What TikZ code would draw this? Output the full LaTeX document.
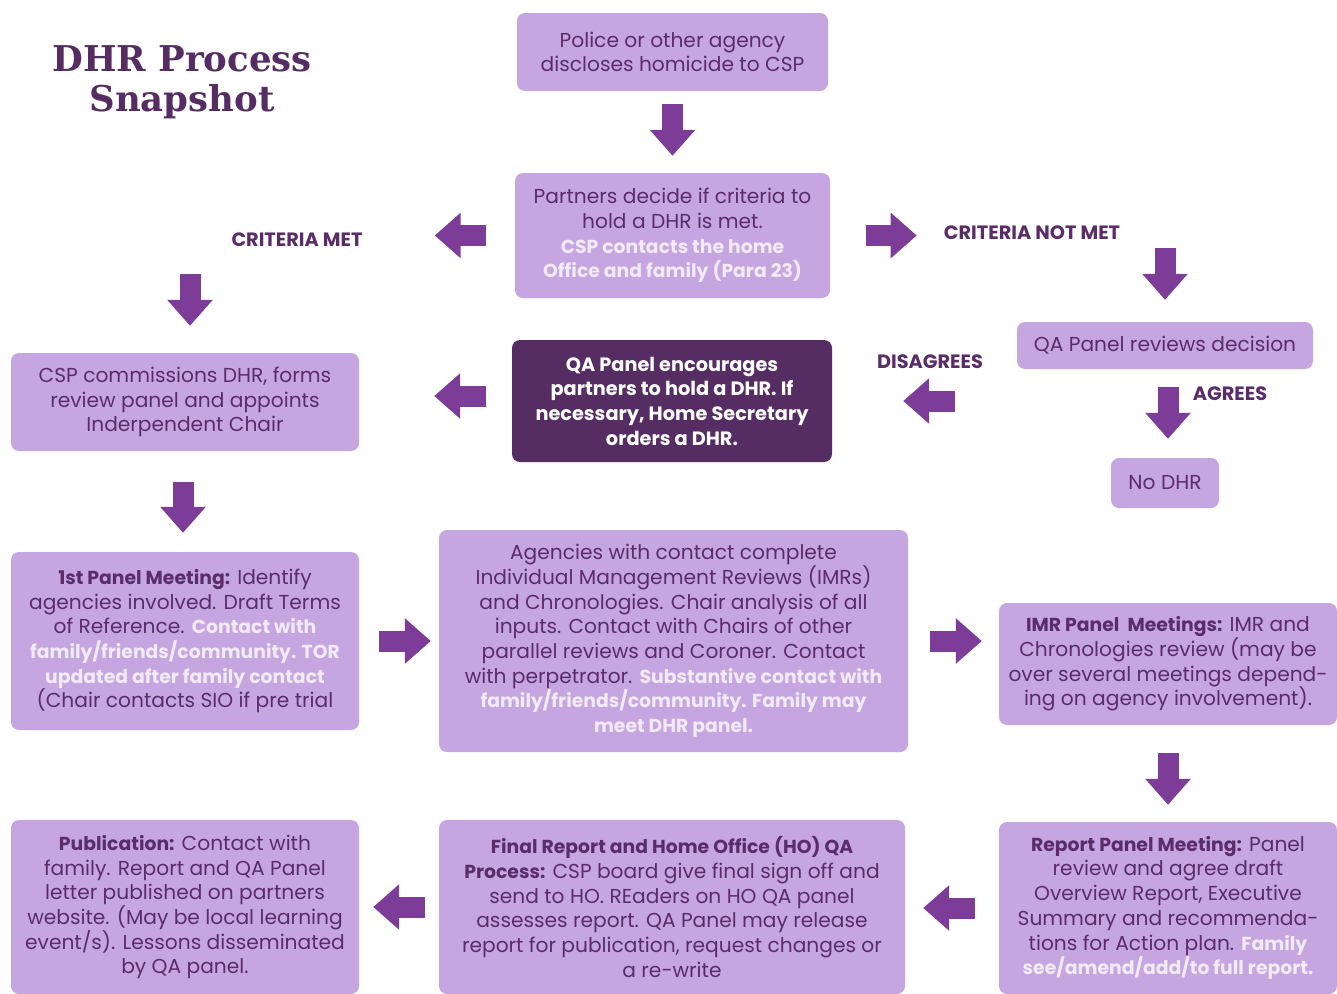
\documentclass[tikz,border=0pt]{standalone}
\usepackage{fontspec}
\setmainfont{Poppins}
\newfontfamily\titlefont{DejaVu Serif}
\usetikzlibrary{arrows.meta}

\definecolor{boxfill}{HTML}{C5A6E0}
\definecolor{boxtext}{HTML}{5A2D68}
\definecolor{hilite}{HTML}{F3EAF7}
\definecolor{arrowcol}{HTML}{7D3C98}
\definecolor{darkbox}{HTML}{552D62}
\newcommand{\boldsize}{\fontsize{18.8}{24.7}\selectfont}
\newcommand{\hl}[1]{{\boldsize\textcolor{hilite}{\textbf{#1}}}}
\newcommand{\hd}[1]{{\boldsize\textbf{#1}}}

\tikzset{
	box/.style={rectangle,rounded corners=8pt,fill=boxfill,text=boxtext,align=center,inner sep=0pt,font=\fontsize{20.2}{24.7}\selectfont},
	darkbox/.style={box,fill=darkbox,text=white,font=\bfseries\fontsize{19.3}{24.7}\selectfont},
	lbl/.style={text=boxtext,font=\bfseries\fontsize{19.3}{22}\selectfont,inner sep=0pt},
	blockarrow/.style={draw=arrowcol,line width=21pt,line cap=butt,-{Triangle[width=44pt,length=26pt]}}
}

\begin{document}
\begin{tikzpicture}[x=1pt,y=-1pt]
		\useasboundingbox (0,0) rectangle (1337,993);
		\fill[white] (0,0) rectangle (1337,993);
		\clip (0,0) rectangle (1337,993);
		% title
		\node[text=darkbox,align=center,font=\titlefont\bfseries\fontsize{35.5}{40}\selectfont] (title) at (182,82) {DHR Process\\Snapshot};
		% top of the process
		\node[box,minimum width=311,minimum height=78] (police) at (672.5,52) {Police or other agency\\discloses homicide to CSP};
		\node[box,minimum width=315,minimum height=125] (partners) at (672.5,235.5) {Partners decide if criteria to\\hold a DHR is met.\\\hl{CSP contacts the home}\\\hl{Office and family (Para 23)}};
		\node[lbl] (critmet) at (297,240) {CRITERIA MET};
		\node[lbl] (critnot) at (1032,233) {CRITERIA NOT MET};
		\node[box,minimum width=296,minimum height=47] (qarev) at (1165,345.5) {QA Panel reviews decision};
		\node[lbl] (disagree) at (930,362) {DISAGREES};
		\node[lbl] (agrees) at (1230,394) {AGREES};
		\node[box,minimum width=108,minimum height=50] (nodhr) at (1165,483) {No DHR};
		\node[box,minimum width=348,minimum height=98] (csp) at (185,402) {CSP commissions DHR, forms\\review panel and appoints\\Inderpendent Chair};
		\node[darkbox,minimum width=320,minimum height=122] (qaenc) at (672,401) {QA Panel encourages\\partners to hold a DHR. If\\necessary, Home Secretary\\orders a DHR.};
		% meetings
		\node[box,minimum width=348,minimum height=178] (first) at (185,641) {\hd{1st Panel Meeting:} Identify\\agencies involved. Draft Terms\\of Reference. \hl{Contact with}\\\hl{family/friends/community. TOR}\\\hl{updated after family contact}\\(Chair contacts SIO if pre trial};
		\node[box,minimum width=469,minimum height=222] (agencies) at (673.5,641) {Agencies with contact complete\\Individual Management Reviews (IMRs)\\and Chronologies. Chair analysis of all\\inputs. Contact with Chairs of other\\parallel reviews and Coroner. Contact\\with perpetrator. \hl{Substantive contact with}\\\hl{family/friends/community. Family may}\\\hl{meet DHR panel.}};
		\node[box,minimum width=338,minimum height=122] (imr) at (1168,664) {\hd{IMR Panel\ \ Meetings:} IMR and\\Chronologies review (may be\\over several meetings depend-\\ing on agency involvement).};
		% report stage
		\node[box,minimum width=338,minimum height=172] (report) at (1168,908) {\hd{Report Panel Meeting:} Panel\\review and agree draft\\Overview Report, Executive\\Summary and recommenda-\\tions for Action plan. \hl{Family}\\\hl{see/amend/add/to full report.}};
		\node[box,minimum width=466,minimum height=174] (final) at (672,907) {\hd{Final Report and Home Office (HO) QA}\\\hd{Process:} CSP board give final sign off and\\send to HO. REaders on HO QA panel\\assesses report. QA Panel may release\\report for publication, request changes or\\a re-write};
		\node[box,minimum width=348,minimum height=174] (publ) at (185,907) {\hd{Publication:} Contact with\\family. Report and QA Panel\\letter published on partners\\website. (May be local learning\\event/s). Lessons disseminated\\by QA panel.};
		% arrows
		\draw[blockarrow,shorten <=13pt,shorten >=17pt] (police.south) -- (partners.north);
		\draw[blockarrow,shorten <=29pt,shorten >=72pt] (partners.west) -- (partners.west -| critmet.east);
		\draw[blockarrow,shorten <=36pt,shorten >=27pt] (partners.east) -- (partners.east -| critnot.west);
		\draw[blockarrow,shorten <=27pt,shorten >=27pt] ([xshift=5pt]csp.north |- critmet.south) -- ([xshift=5pt]csp.north);
		\draw[blockarrow,shorten <=8pt,shorten >=22pt] (qarev.north |- critnot.south) -- (qarev.north);
		\draw[blockarrow,shorten <=26pt,shorten >=75pt] ([yshift=5pt]qaenc.west) -- ([yshift=5pt]qaenc.west -| csp.east);
		\draw[blockarrow,shorten <=62pt,shorten >=71pt] (qarev.west |- qaenc.east) -- (qaenc.east);
		\draw[blockarrow,shorten <=18pt,shorten >=19pt] ([xshift=3pt]qarev.south) -- ([xshift=3pt]nodhr.north);
		\draw[blockarrow,shorten <=31pt,shorten >=19pt] ([xshift=-2pt]csp.south) -- ([xshift=-2pt]first.north);
		\draw[blockarrow,shorten <=20pt,shorten >=8pt] (first.east) -- (agencies.west);
		\draw[blockarrow,shorten <=22pt,shorten >=17pt] (agencies.east) -- (agencies.east -| imr.west);
		\draw[blockarrow,shorten <=28pt,shorten >=17pt] (imr.south) -- (report.north);
		\draw[blockarrow,shorten <=24pt,shorten >=18pt] (report.west) -- (report.west -| final.east);
		\draw[blockarrow,shorten <=14pt,shorten >=14pt] (final.west) -- (publ.east);
	\end{tikzpicture}
\end{document}
